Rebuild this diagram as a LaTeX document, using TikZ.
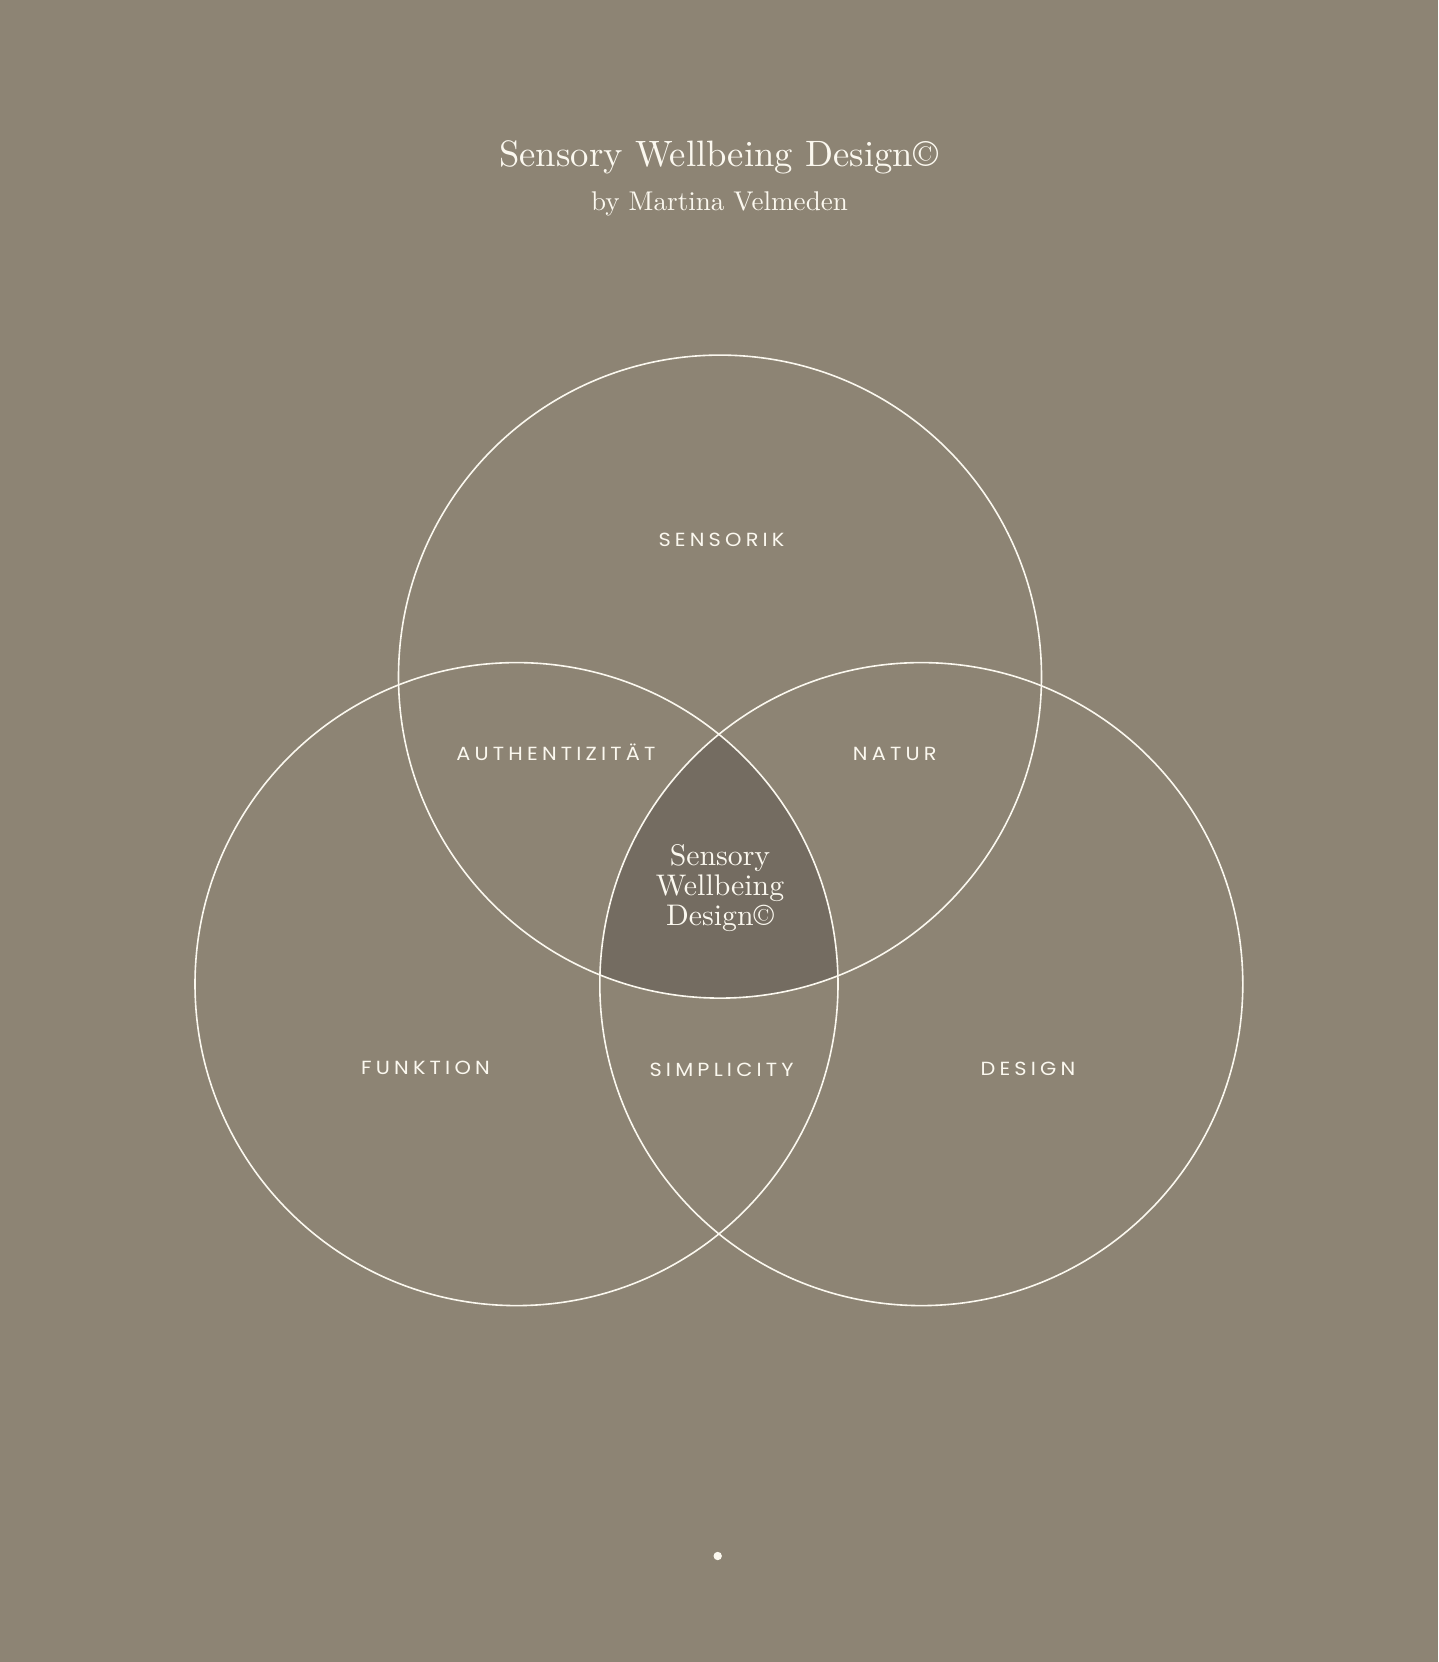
\documentclass[tikz,border=0pt]{standalone}
\usepackage{fontspec}
\setmainfont{lmroman10-regular.otf}
\newfontfamily\labelfont[LetterSpace=22,FakeStretch=1.1]{Poppins}
\definecolor{bgcol}{HTML}{8D8474}
\definecolor{corecol}{HTML}{746C61}
\definecolor{inkcol}{HTML}{FBF8EF}
\tikzset{
  ring/.style={draw=inkcol, line width=1.6pt, circle, minimum size=643pt, inner sep=0pt},
  caplabel/.style={text=inkcol, font=\labelfont\fontsize{19}{22}\selectfont, anchor=base, inner sep=0pt},
  serifbig/.style={text=inkcol, inner sep=0pt, anchor=base}
}
\begin{document}
\begin{tikzpicture}[x=1pt,y=-1pt]
\fill[bgcol] (0,0) rectangle (1438,1662);
\useasboundingbox (0,0) rectangle (1438,1662);
% centres
\coordinate (ptop) at (720,676.6);
\coordinate (pleft) at (516.5,984.1);
\coordinate (pright) at (921.3,984.1);
% core intersection
\begin{scope}
  \clip (ptop) circle (321.5);
  \clip (pleft) circle (321.5);
  \fill[corecol] (pright) circle (321.5);
\end{scope}
\node[ring] (ctop) at (ptop) {};
\node[ring] (cleft) at (pleft) {};
\node[ring] (cright) at (pright) {};
% titles
\node[serifbig, font=\fontsize{36.7}{44}\selectfont] (title) at (718.6,166.7) {Sensory Wellbeing Design©};
\node[serifbig, font=\fontsize{27.1}{32}\selectfont] (subtitle) at (719.5,210.5) {by Martina Velmeden};
% labels
\node[caplabel] (sensorik) at (721.5,546) {SENSORIK};
\node[caplabel] (auth) at (556,760) {AUTHENTIZITÄT};
\node[caplabel] (natur) at (894.7,760) {NATUR};
\node[caplabel] (funktion) at (425.5,1074) {FUNKTION};
\node[caplabel] (simplicity) at (721.6,1076) {SIMPLICITY};
\node[caplabel] (design) at (1028,1075.7) {DESIGN};
% core text
\node[text=inkcol, inner sep=0pt, align=center, font=\fontsize{29.8}{29.6}\selectfont] (core) at (720,888) {Sensory\\Wellbeing\\Design©};
% dot
\fill[inkcol] (717.7,1556) circle (4.2) coordinate (dot);
\end{tikzpicture}
\end{document}
